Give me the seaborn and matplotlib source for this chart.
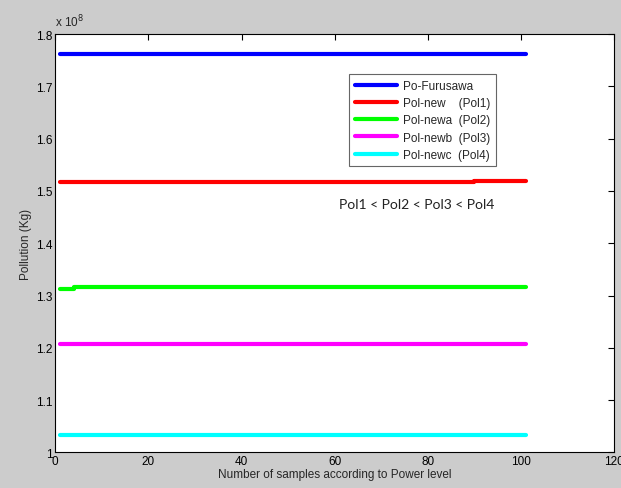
import numpy as np
import matplotlib.pyplot as plt
import pandas as pd
import seaborn as sns

# Pollution levels (units of 1e8 Kg); breakpoints where a line steps
series_names = ["Po-Furusawa", "Pol-new    (Pol1)", "Pol-newa  (Pol2)", "Pol-newb  (Pol3)", "Pol-newc  (Pol4)"]
series_colors = ["#0000ff", "#ff0000", "#00ff00", "#ff00ff", "#00ffff"]

furusawa_x = [1, 101]
furusawa_y = [1.762, 1.762]
pol1_x = [1, 90, 90, 101]
pol1_y = [1.518, 1.518, 1.520, 1.520]
pol2_x = [1, 4, 4, 101]
pol2_y = [1.313, 1.313, 1.316, 1.316]
pol3_x = [1, 101]
pol3_y = [1.208, 1.208]
pol4_x = [1, 101]
pol4_y = [1.033, 1.033]

x_ticks = [0, 20, 40, 60, 80, 100, 120]
y_ticks = [1, 1.1, 1.2, 1.3, 1.4, 1.5, 1.6, 1.7, 1.8]

# Build long-form table for seaborn
frames = []
for name, xs, ys in zip(series_names,
                        [furusawa_x, pol1_x, pol2_x, pol3_x, pol4_x],
                        [furusawa_y, pol1_y, pol2_y, pol3_y, pol4_y]):
    frames.append(pd.DataFrame({"x": xs, "y": ys, "series": name,
                                "order": np.arange(len(xs))}))
df = pd.concat(frames, ignore_index=True)

sns.set_style("white")
plt.rcParams["font.family"] = ["Liberation Sans", "DejaVu Sans"]

fig = plt.figure(figsize=(6.21, 4.89), dpi=100, facecolor="#cccccc")
ax = fig.add_axes([0.089, 0.073, 0.9, 0.855])

sns.lineplot(data=df, x="x", y="y", hue="series", palette=series_colors,
             hue_order=series_names, sort=False, estimator=None, units="series",
             linewidth=3, ax=ax, legend=False)

ax.set_xlim(0, 120)
ax.set_ylim(1, 1.8)
ax.set_xticks(x_ticks)
ax.set_yticks(y_ticks)
ax.set_xticklabels([str(t) for t in x_ticks])
ax.set_yticklabels(["1", "1.1", "1.2", "1.3", "1.4", "1.5", "1.6", "1.7", "1.8"])
ax.tick_params(direction="in", length=4, width=0.8, top=True, right=True,
               labelsize=8.5, colors="black", pad=2)
for sp in ax.spines.values():
    sp.set_color("black")
    sp.set_linewidth(0.8)

ax.set_xlabel("Number of samples according to Power level", fontsize=8.5, labelpad=1)
ax.set_ylabel("Pollution (Kg)", fontsize=8.5, labelpad=3)
ax.text(0.0, 1.012, r"x 10$^{8}$", transform=ax.transAxes, fontsize=8.5,
        ha="left", va="bottom")

handles = [plt.Line2D([], [], color=c, linewidth=3) for c in series_colors]
leg = ax.legend(handles, series_names, loc="upper left",
                bbox_to_anchor=(0.526, 0.904), borderaxespad=0, fontsize=8.5,
                frameon=True, fancybox=False, edgecolor="#404040",
                handlelength=3.6, labelspacing=0.45, borderpad=0.45,
                handletextpad=0.5)
leg.get_frame().set_linewidth(0.8)

ax.text(61, 1.476, "Pol1 < Pol2 < Pol3 < Pol4", fontsize=10,
        family=["Lato", "DejaVu Sans"], color="#222222", ha="left", va="center")

fig.savefig("out.png", dpi=100, facecolor=fig.get_facecolor())
